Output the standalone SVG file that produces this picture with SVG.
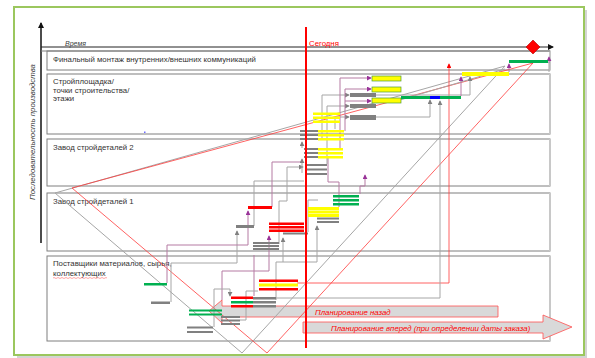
<svg xmlns="http://www.w3.org/2000/svg" width="595" height="358" viewBox="0 0 595 358">
<style>
text{font-family:"Liberation Sans",Arial,sans-serif;font-size:7.8px;fill:#333}
.it{font-style:italic}
.rd{fill:#ff0000}
.row{fill:none;stroke:#7f7f7f;stroke-width:1}
.redge{stroke:#c8c8c8;stroke-width:2}
.gb{fill:#808080}
.yb{fill:#ffff00}
.yo{fill:#ffff00;stroke:#4f9a3a;stroke-width:0.7}
.rb{fill:#ff0000}
.nb{fill:#00b050}
.gc{fill:none;stroke:#a6a6a6;stroke-width:1}
.pc{fill:none;stroke:#b57aa3;stroke-width:1}
.ga{marker-end:url(#ag)}
.pa{marker-end:url(#ap)}
</style>
<defs>
<marker id="ag" viewBox="0 0 6 6" refX="5" refY="3" markerWidth="5" markerHeight="5" orient="auto"><path d="M0,0 L6,3 L0,6 z" fill="#808080"/></marker>
<marker id="ap" viewBox="0 0 6 6" refX="5" refY="3" markerWidth="5" markerHeight="5" orient="auto"><path d="M0,0 L6,3 L0,6 z" fill="#993399"/></marker>
<marker id="ar" viewBox="0 0 6 6" refX="5" refY="3" markerWidth="6" markerHeight="6" orient="auto"><path d="M0,0 L6,3 L0,6 z" fill="#ff0000"/></marker>
<marker id="ak" viewBox="0 0 6 6" refX="5" refY="3" markerWidth="6" markerHeight="6" markerUnits="userSpaceOnUse" orient="auto"><path d="M0,0 L6,3 L0,6 z" fill="#111"/></marker>
</defs>
<rect width="595" height="358" fill="#fff"/>
<rect x="17" y="10" width="570" height="348" fill="#d4d4d4"/>
<rect x="14" y="7" width="570" height="348" fill="#fff" stroke="#9bc75e" stroke-width="2"/>

<g id="lanes">
<g id="lane-final"><rect class="row" x="47" y="51" width="503" height="19"/><line class="redge" x1="550" y1="51" x2="550" y2="70"/><text x="53" y="62">Финальный монтаж внутренних/внешних коммуникаций</text></g>
<g id="lane-site"><rect class="row" x="47" y="74" width="503" height="60"/><line class="redge" x1="550" y1="74" x2="550" y2="134"/><text x="53" y="84">Стройплощадка/</text><text x="53" y="93">точки строительства/</text><text x="53" y="101">этажи</text><rect x="144" y="131.5" width="1.5" height="1.5" fill="#6b6bff"/></g>
<g id="lane-plant2"><rect class="row" x="47" y="139" width="503" height="47"/><line class="redge" x1="550" y1="139" x2="550" y2="186"/><text x="53" y="149.5">Завод стройдеталей 2</text></g>
<g id="lane-plant1"><rect class="row" x="47" y="193" width="503" height="58"/><line class="redge" x1="550" y1="193" x2="550" y2="251"/><text x="53" y="203.5">Завод стройдеталей 1</text></g>
<g id="lane-suppliers"><rect class="row" x="47" y="256" width="503" height="85"/><line class="redge" x1="550" y1="256" x2="550" y2="341"/><text x="53" y="266">Поставщики материалов, сырья,</text><text x="53" y="275.5">коллектующих</text><path d="M53,278 q1,-1 2,0 t2,0 t2,0 t2,0 t2,0 t2,0 t2,0 t2,0 t2,0 t2,0 t2,0 t2,0 t2,0 t2,0 t2,0 t2,0 t2,0 t2,0 t2,0 t2,0 t2,0 t2,0 t2,0 t2,0 t2,0 t2,0 t2,0" fill="none" stroke="#ff4d4d" stroke-width="0.5"/></g>
</g>

<g id="axes">
<line x1="41" y1="243" x2="41" y2="23" stroke="#111" stroke-width="1.5" marker-end="url(#ak)"/>
<line x1="41" y1="47" x2="553" y2="47" stroke="#222" stroke-width="1" marker-end="url(#ak)"/>
<line x1="41" y1="51" x2="550" y2="51" stroke="#7f7f7f" stroke-width="1"/>
<text class="it" x="65" y="46" style="font-size:7px;fill:#404040">Время</text>
<text class="it" transform="translate(35,132) rotate(-90)" text-anchor="middle" style="fill:#404040">Последовательность производства</text>
</g>

<g id="planning">
<g id="plan-back"><polygon points="209,311 222,300 222,306 498,306 498,317 222,317 222,323" fill="#d9d9d9" stroke="#ff5050" stroke-width="0.8"/><text class="it rd" x="315" y="315">Планирование назад</text></g>
<g id="plan-forward"><polygon points="303,322 543,322 543,315 572,327 543,339 543,333 303,333" fill="#d9d9d9" stroke="#ff5050" stroke-width="0.8"/><text class="it rd" x="331" y="331">Планирование вперед (при определении даты заказа)</text></g>
</g>

<g id="connectors">
<polygon points="55,193 505,66 242,353" fill="none" stroke="#a6a6a6" stroke-width="1"/>
<polygon points="72,188 533,63 267,353" fill="none" stroke="#ff3b3b" stroke-width="0.8"/>
<polyline class="gc" points="400,100 505,69"/>
<polyline points="297,283 449,283 449,64" fill="none" stroke="#ff3b3b" stroke-width="0.8" marker-end="url(#ar)"/>
<polyline class="gc ga" points="276,298 440,298 440,101"/>
<polyline class="gc ga" points="171,302 171,263 237,263 237,231"/>
<polyline class="pc pa" points="167,283 167,245 248,245 248,211"/>
<polyline class="pc pa" points="222,300 222,271 269,271 269,236"/>
<polyline class="pc" points="254,296 254,255"/>
<polyline class="gc ga" points="276,300 276,262 317,262 317,226"/>
<polyline class="gc ga" points="283,262 283,238"/>
<polyline class="gc ga" points="214,327 214,289 230,289 230,296"/>
<polyline class="gc" points="240,320 246,320 246,291 258,291"/>
<polyline class="gc" points="254,226 254,181 304,181"/>
<polyline class="gc ga" points="279,244 279,201 287,201 287,167 303,167"/>
<polyline class="gc" points="308,232 308,200 318,200"/>
<polyline class="pc" points="272,207 272,162 302,162"/>
<polyline class="pc" points="339,207 339,182 328,182 328,157"/>
<polyline class="pc pa" points="360,194 360,186 365,186 365,175"/>
<polyline class="gc ga" points="302,173 302,159"/>
<polyline class="gc ga" points="302,148 302,142"/>
<polyline class="gc ga" points="318,139 322,139 322,95 349,95"/>
<polyline class="gc ga" points="327,164 327,106 349,106"/>
<polyline class="gc ga" points="335,129 335,117 349,117"/>
<polyline class="pc pa" points="340,148 340,78 371,78"/>
<polyline class="pc pa" points="345,131 345,89 371,89"/>
<polyline class="pc pa" points="345,101 371,101"/>
<polyline class="gc ga" points="376,95 470,95 470,77"/>
<polyline class="gc ga" points="376,117 430,117 430,100"/>
<polyline class="pc pa" points="461,96 461,77"/>
<polyline class="pc pa" points="509,72 509,64"/>
<polyline class="gc" points="549,72 549,62"/>
<polyline class="pc pa" points="549,63 549,57"/>
</g>

<g id="bars">
<g id="final"><rect class="nb" x="509" y="60" width="39" height="3"/></g>
<g id="site">
<rect class="yb" x="462" y="72" width="47" height="4"/>
<rect class="yo" x="372" y="76" width="29" height="5"/>
<rect class="yo" x="372" y="87" width="29" height="5"/>
<rect class="yo" x="372" y="98" width="29" height="5"/>
<rect class="nb" x="401" y="96" width="60" height="3"/>
<rect x="430" y="96" width="10" height="3" fill="#0000ff"/>
<rect class="gb" x="350" y="93" width="26" height="4"/>
<rect class="gb" x="350" y="104" width="26" height="4"/>
<rect class="gb" x="350" y="115" width="26" height="5"/>
<rect class="yb" x="313" y="112.5" width="27" height="2.5"/>
<rect class="yb" x="313" y="116.5" width="27" height="2.5"/>
<rect class="yb" x="313" y="120.5" width="27" height="2.5"/>
<rect class="gb" x="300" y="130" width="18" height="2"/>
<rect class="gb" x="300" y="134" width="18" height="2"/>
<rect class="gb" x="300" y="138" width="18" height="2"/>
<rect class="yb" x="318" y="130" width="26" height="2.5"/>
<rect class="yb" x="318" y="134" width="26" height="2.5"/>
<rect class="yb" x="318" y="138" width="26" height="2.5"/>
</g>
<g id="plant2">
<rect class="gb" x="304" y="148" width="14" height="2"/>
<rect class="gb" x="304" y="152" width="14" height="2"/>
<rect class="gb" x="304" y="156" width="14" height="2"/>
<rect class="yb" x="318" y="148" width="25" height="2.5"/>
<rect class="yb" x="318" y="152" width="25" height="2.5"/>
<rect class="yb" x="318" y="156" width="25" height="2.5"/>
<rect class="gb" x="305" y="164" width="22" height="2"/>
<rect class="gb" x="305" y="168.5" width="22" height="2"/>
<rect class="gb" x="305" y="173" width="22" height="2"/>
</g>
<g id="plant1">
<rect class="nb" x="333" y="195" width="26" height="2.5"/>
<rect class="nb" x="333" y="199" width="26" height="2.5"/>
<rect class="nb" x="333" y="203" width="26" height="2.5"/>
<rect class="yb" x="308" y="207" width="31" height="3"/>
<rect class="yb" x="308" y="210.5" width="31" height="3"/>
<rect class="yb" x="308" y="214" width="31" height="3"/>
<rect class="gb" x="317" y="217.5" width="22" height="2"/>
<rect class="gb" x="317" y="221" width="22" height="2"/>
<rect class="rb" x="248" y="206" width="24" height="3"/>
<rect class="rb" x="269" y="222.5" width="35" height="2.5"/>
<rect class="rb" x="269" y="226" width="35" height="2.5"/>
<rect class="rb" x="269" y="229.5" width="35" height="2.5"/>
<rect class="gb" x="236" y="225" width="18" height="3"/>
<rect class="gb" x="283" y="232.5" width="25" height="2"/>
<rect class="gb" x="253" y="242" width="26" height="2"/>
<rect class="gb" x="253" y="245" width="26" height="2"/>
<rect class="gb" x="253" y="248" width="26" height="2"/>
</g>
<g id="suppliers">
<rect class="nb" x="144" y="283" width="23" height="2.5"/>
<rect class="gb" x="151" y="301.5" width="19" height="2.5"/>
<rect class="nb" x="189" y="309.5" width="33" height="2"/>
<rect class="nb" x="189" y="313.5" width="33" height="2"/>
<rect class="gb" x="187" y="326.5" width="26" height="2"/>
<rect class="gb" x="187" y="331" width="26" height="2"/>
<rect class="gb" x="221" y="316" width="19" height="2"/>
<rect class="gb" x="221" y="319.5" width="19" height="2"/>
<rect class="gb" x="221" y="323" width="19" height="2"/>
<rect class="rb" x="231" y="296.5" width="22" height="2.5"/>
<rect class="nb" x="231" y="301" width="22" height="2.5"/>
<rect class="rb" x="231" y="305" width="22" height="2.5"/>
<rect class="gb" x="253" y="297" width="23" height="2.5"/>
<rect class="gb" x="253" y="301" width="23" height="2.5"/>
<rect class="gb" x="253" y="305" width="23" height="2.5"/>
<rect class="rb" x="259" y="279.5" width="39" height="2.5"/>
<rect class="yb" x="259" y="283.5" width="39" height="3"/>
<rect class="rb" x="259" y="288" width="39" height="2.5"/>
</g>
</g>

<g id="today">
<line x1="306" y1="27" x2="306" y2="348" stroke="#ff0000" stroke-width="2"/>
<text class="rd" x="309" y="46">Сегодня</text>
</g>
<g id="milestone"><polygon points="533,40 540,47 533,54 526,47" fill="#ff0000" stroke="#b00000" stroke-width="0.6"/></g>
</svg>
